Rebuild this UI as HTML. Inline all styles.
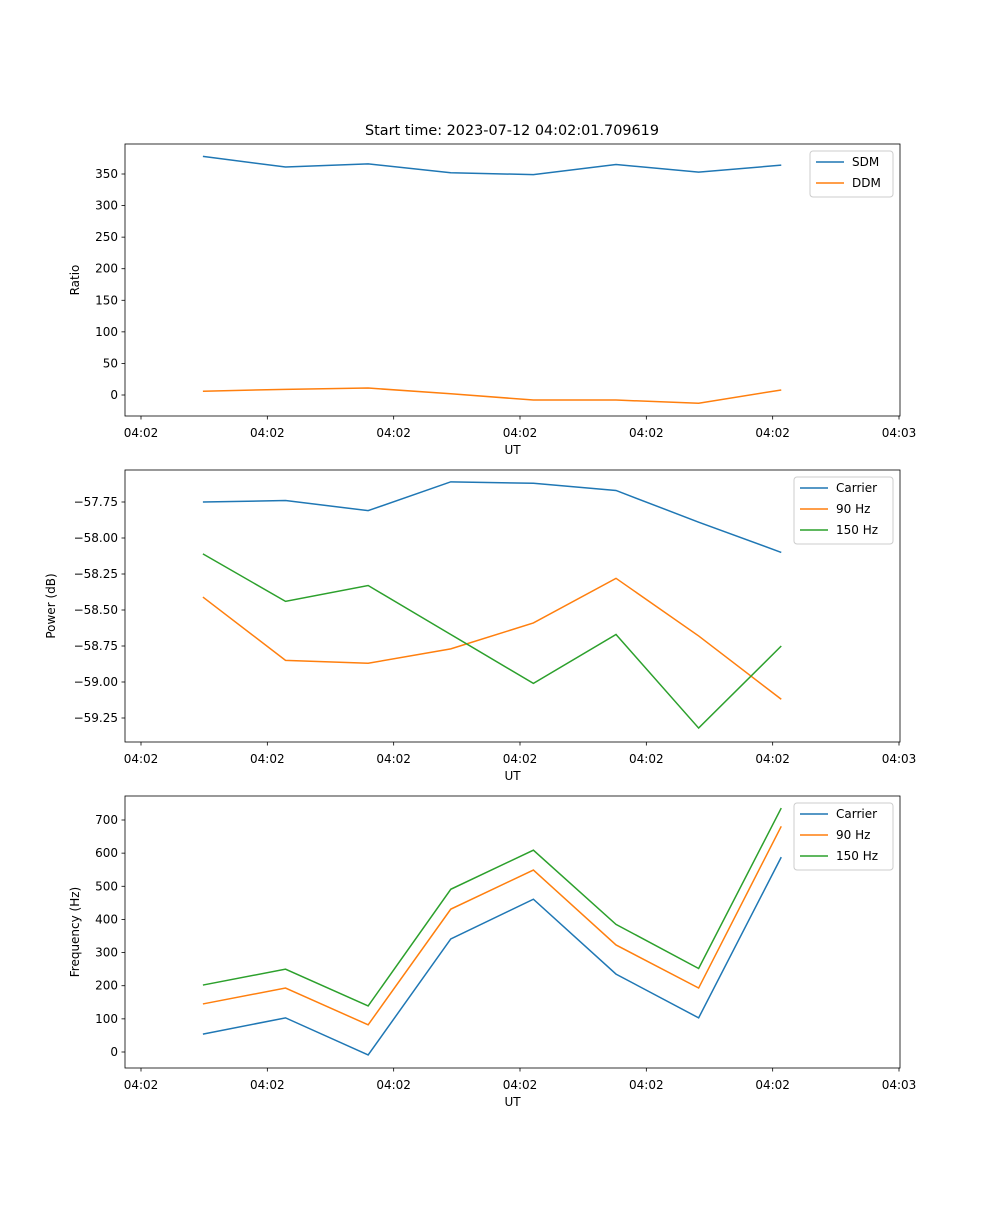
<!DOCTYPE html>
<html><head><meta charset="utf-8"><style>
body{margin:0;background:#fff;font-family:"Liberation Sans","DejaVu Sans",sans-serif}
svg text{font-family:"DejaVu Sans","Liberation Sans",sans-serif;font-size:12px;fill:#000}
</style></head><body>
<svg id="c" width="1000" height="1200" xmlns="http://www.w3.org/2000/svg"></svg>
<script>
const times=[4.9,11.44,17.98,24.52,31.06,37.6,44.14,50.68];
const xTicks=[0,10,20,30,40,50,60];
const xTickLabels=["04:02","04:02","04:02","04:02","04:02","04:02","04:03"];
const sdm=[378,361,366,352,349,365,353,364];
const ddm=[6,9,11,2,-8,-8,-13,8];
const pCarrier=[-57.75,-57.74,-57.81,-57.61,-57.62,-57.67,-57.89,-58.10];
const p90=[-58.41,-58.85,-58.87,-58.77,-58.59,-58.28,-58.68,-59.12];
const p150=[-58.11,-58.44,-58.33,-58.67,-59.01,-58.67,-59.32,-58.75];
const fCarrier=[54,103,-9,341,461,235,103,588];
const f90=[145,193,82,431,549,323,193,681];
const f150=[202,250,139,491,609,385,252,736];
const ratioTicks=[0,50,100,150,200,250,300,350];
const powerTicks=[-59.25,-59.0,-58.75,-58.5,-58.25,-58.0,-57.75];
const powerTickLabels=["\u221259.25","\u221259.00","\u221258.75","\u221258.50","\u221258.25","\u221258.00","\u221257.75"];
const freqTicks=[0,100,200,300,400,500,600,700];

const svg=document.getElementById('c');const NS='http://www.w3.org/2000/svg';
function mk(t,a,p){const e=document.createElementNS(NS,t);for(const k in a)e.setAttribute(k,a[k]);(p||svg).appendChild(e);return e;}
const L=125,R=900;
const xs=t=>141+(t-0)*(899-141)/60;
const C={b:'#1f77b4',o:'#ff7f0e',g:'#2ca02c'};
function panel(name,top,bot,y0v,y0p,y1v,y1p,ticks,tickLabels,ylab,series,legend){
  const g=mk('g',{});
  
  
  const ys=v=>y0p+(v-y0v)*(y1p-y0p)/(y1v-y0v);
  series.forEach(s=>{
    const pl=mk('polyline',{points:s.v.map((v,i)=>xs(times[i])+','+ys(v)).join(' '),fill:'none',stroke:s.c,'stroke-width':1.5},g);
    
    
  });
  mk('rect',{x:L,y:top,width:R-L,height:bot-top,fill:'none',stroke:'#000','stroke-width':0.8},g);
  xTicks.forEach((t,i)=>{const x=xs(t);mk('line',{x1:x,x2:x,y1:bot,y2:bot+3.5,stroke:'#000','stroke-width':0.8},g);
    const tx=mk('text',{x:x,y:bot+21,'text-anchor':'middle'},g);tx.textContent=xTickLabels[i];});
  const xl=mk('text',{x:(L+R)/2,y:bot+38,'text-anchor':'middle'},g);xl.textContent='UT';
  
  ticks.forEach((t,i)=>{const y=ys(t);mk('line',{x1:L-3.5,x2:L,y1:y,y2:y,stroke:'#000','stroke-width':0.8},g);
    const tx=mk('text',{x:L-7,y:y+4,'text-anchor':'end'},g);tx.textContent=tickLabels?tickLabels[i]:t;});
  const yl=mk('text',{x:0,y:0,'text-anchor':'middle',transform:`translate(${legend.yx},${(top+bot)/2}) rotate(-90)`},g);yl.textContent=ylab;
  
  const lg=mk('g',{},g);
  
  mk('rect',{x:legend.x,y:top+7,width:legend.w,height:series.length*21+4,fill:'#fff',stroke:'#ccc',rx:3},lg);
  series.forEach((s,i)=>{const y=top+18+i*21;
    mk('line',{x1:legend.x+6,x2:legend.x+34,y1:y,y2:y,stroke:s.c,'stroke-width':1.5},lg);
    const tx=mk('text',{x:legend.x+42,y:y+4},lg);tx.textContent=s.n;});
}
const title=mk('text',{x:512,y:135,'text-anchor':'middle',style:'font-size:14.4px'});
title.textContent='Start time: 2023-07-12 04:02:01.709619';

panel('ratio-panel',144,416,0,395,350,174,ratioTicks,null,'Ratio',[{n:'SDM',v:sdm,c:C.b},{n:'DDM',v:ddm,c:C.o}],{x:810,w:83,yx:79});
panel('power-panel',470,742,-57.75,502,-59.25,718,powerTicks.slice().reverse(),powerTickLabels.slice().reverse(),'Power (dB)',[{n:'Carrier',v:pCarrier,c:C.b},{n:'90 Hz',v:p90,c:C.o},{n:'150 Hz',v:p150,c:C.g}],{x:794,w:99,yx:55});
panel('frequency-panel',796,1068,0,1052,700,820,freqTicks,null,'Frequency (Hz)',[{n:'Carrier',v:fCarrier,c:C.b},{n:'90 Hz',v:f90,c:C.o},{n:'150 Hz',v:f150,c:C.g}],{x:794,w:99,yx:79});
</script>
</body></html>
